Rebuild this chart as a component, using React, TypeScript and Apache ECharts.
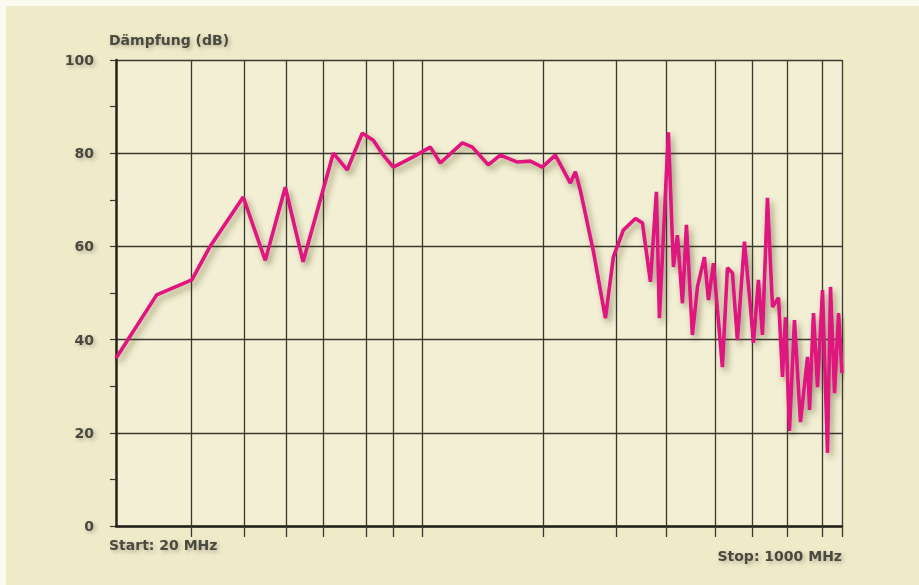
import React, { useEffect, useRef } from "react";
import * as echarts from "echarts";

const freqMHz = [20, 24.9, 30.1, 33.2, 39.7, 44.7, 49.8, 54.8, 64.5, 69.5, 75.4, 80, 84.4, 89.1, 99.2, 108.8, 114.8, 129.3, 136.4, 148.7, 158.6, 173.9, 186.5, 198.9, 213.4, 231.4, 237.7, 244.2, 261.9, 279.5, 291.7, 307.8, 328.6, 341.2, 356.2, 367.9, 373.9, 392.4, 403.2, 412, 423.3, 432.5, 446.6, 458.9, 476.5, 486.9, 500.2, 525, 539.4, 554.1, 569.2, 591.1, 610.6, 620.6, 637.4, 651.4, 669.2, 687.6, 710.3, 725.6, 737.4, 753.6, 774, 799.6, 830.4, 839.5, 857.6, 876.4, 900.4, 925, 940, 960.5, 981.6, 1000];
const attenuationDb = [36, 49.6, 52.8, 60, 70.6, 57, 72.7, 56.7, 80, 76.4, 84.3, 82.8, 79.6, 77, 79.2, 81.3, 77.9, 82.2, 81.3, 77.5, 79.6, 78.1, 78.3, 77, 79.6, 73.6, 76, 72, 59, 44.6, 57.7, 63.5, 66, 65, 52.4, 71.7, 44.6, 84.5, 55.6, 62.4, 47.8, 64.6, 41, 51.3, 57.7, 48.5, 56.4, 34.1, 55.4, 54.3, 39.9, 61, 47, 39.3, 52.8, 41, 70.4, 47, 49, 32, 44.8, 20.4, 44.2, 22.3, 36.3, 24.9, 45.7, 29.8, 50.6, 15.7, 51.3, 28.5, 45.7, 32.8];
const gridFreqsMHz = [30, 40, 50, 61, 77, 89, 104, 200, 297, 387, 504, 617, 745, 900, 1000];
const yTicks = [0, 20, 40, 60, 80, 100];

const titleText = "Dämpfung (dB)";
const startText = "Start: 20 MHz";
const stopText = "Stop: 1000 MHz";

const ink = "#3a392f";
const font = "DejaVu Sans";

export default function App() {
  const ref = useRef<HTMLDivElement>(null);
  useEffect(() => {
    if (!ref.current) return;
    const chart = echarts.init(ref.current, null, { renderer: "svg" });
    const textStyleBase = {
      fontFamily: font,
      fontWeight: "bold" as const,
      fontSize: 14,
      fill: "#4a493f",
      textShadowColor: "rgba(0,0,0,0.25)",
      textShadowBlur: 4,
      textShadowOffsetX: 2,
      textShadowOffsetY: 2,
    };
    chart.setOption({
      animation: false,
      backgroundColor: "#efeac8",
      grid: {
        left: 116,
        right: 77,
        top: 60,
        bottom: 59,
        show: true,
        backgroundColor: "#f3efd4",
        borderWidth: 0,
      },
      xAxis: {
        type: "log",
        logBase: 10,
        min: 20,
        max: 1000,
        axisLine: { show: true, onZero: false, lineStyle: { color: "#22211b", width: 2.5 } },
        axisTick: { show: true, customValues: gridFreqsMHz, length: 11, lineStyle: { color: ink, width: 1.3 } },
        axisLabel: { show: false },
        splitLine: { show: true, lineStyle: { color: ink, width: 1.3 } },
        minorTick: { show: false },
        minorSplitLine: { show: false },
      },
      yAxis: {
        type: "value",
        min: 0,
        max: 100,
        interval: 20,
        axisLine: { show: true, lineStyle: { color: "#22211b", width: 2.5 } },
        axisTick: { show: true, length: 6, lineStyle: { color: ink, width: 1.2 } },
        minorTick: { show: true, splitNumber: 2, length: 6, lineStyle: { color: ink, width: 1.2 } },
        axisLabel: {
          margin: 22,
          fontFamily: font,
          fontWeight: "bold",
          fontSize: 14,
          color: "#4a493f",
          textShadowColor: "rgba(0,0,0,0.25)",
          textShadowBlur: 4,
          textShadowOffsetX: 2,
          textShadowOffsetY: 2,
          customValues: yTicks,
        },
        splitLine: { show: true, lineStyle: { color: ink, width: 1.3 } },
      },
      series: [
        {
          type: "line",
          data: freqMHz.map((f, i) => [f, attenuationDb[i]]),
          showSymbol: false,
          symbol: "none",
          smooth: false,
          lineStyle: {
            color: "#e0127f",
            width: 3.6,
            shadowColor: "rgba(60,50,20,0.45)",
            shadowBlur: 6,
            shadowOffsetX: 3,
            shadowOffsetY: 4,
          },
          z: 5,
        },
      ],
      graphic: [
        {
          type: "rect",
          left: 0,
          top: 0,
          shape: { x: 0, y: 0, width: 919, height: 585 },
          style: { fill: "none", stroke: "#fbfaf0", lineWidth: 6 },
          silent: true,
        },
        {
          type: "text",
          left: 109,
          top: 33,
          style: { ...textStyleBase, text: titleText },
        },
        {
          type: "text",
          left: 109,
          top: 538,
          style: { ...textStyleBase, text: startText },
        },
        {
          type: "text",
          right: 77,
          top: 549,
          style: { ...textStyleBase, text: stopText },
        },
      ],
    });
    return () => chart.dispose();
  }, []);
  return (
    <div
      ref={ref}
      style={{ position: "fixed", left: 0, top: 0, width: 919, height: 585 }}
    />
  );
}
